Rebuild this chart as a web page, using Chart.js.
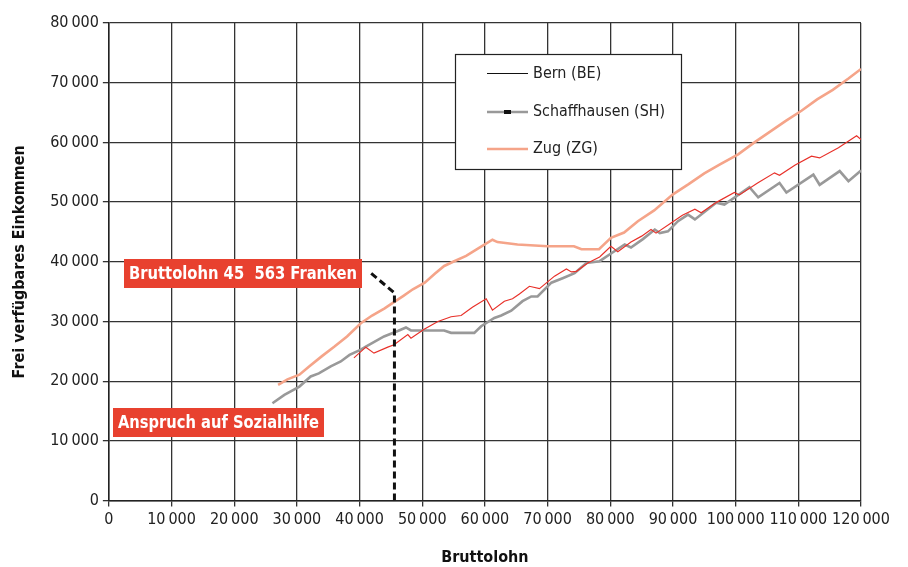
<!DOCTYPE html>
<html>
<head>
<meta charset="utf-8">
<script src="https://cdn.jsdelivr.net/npm/chart.js@4.4.0/dist/chart.umd.min.js"></script>
<style>
  html, body { margin: 0; padding: 0; background: #fff; }
  #wrap { width: 908px; height: 567px; }
</style>
</head>
<body>
<div id="wrap"><canvas id="chart" width="908" height="567"></canvas></div>
<script>
// Bruttolohn / frei verfuegbares Einkommen
const bernLohn = [39100, 41000, 42300, 44500, 45500, 47700, 48200, 50300, 52500, 54600, 56200, 58000, 60200, 61200, 63100, 64400, 65500, 67100, 68700, 71100, 73000, 73800, 74600, 76400, 78300, 80100, 81200, 83300, 85000, 86500, 87300, 89700, 91500, 93500, 94500, 97000, 99800, 100600, 103500, 106200, 107000, 109500, 112100, 113400, 116400, 119300, 120000];
const bernEinkommen = [23900, 25700, 24700, 25700, 26100, 27800, 27200, 28700, 30000, 30800, 31000, 32400, 33800, 31900, 33400, 33800, 34600, 35900, 35500, 37600, 38800, 38300, 38400, 39800, 40800, 42600, 41700, 43300, 44300, 45400, 44800, 46500, 47800, 48800, 48200, 50000, 51600, 51200, 53200, 54900, 54500, 56200, 57700, 57400, 59100, 61100, 60500];

const shLohn = [26100, 28000, 30400, 32200, 33500, 35400, 37000, 38400, 40200, 41000, 43900, 46100, 47400, 48200, 53500, 54600, 58300, 59400, 61500, 62600, 64200, 66000, 67400, 68400, 70600, 72500, 74300, 76200, 78300, 80000, 82300, 83300, 85200, 87100, 87900, 89200, 90800, 92400, 93500, 96900, 98200, 102200, 103600, 107000, 108100, 112400, 113400, 116600, 118000, 120000];
const shEinkommen = [16300, 17700, 19100, 20800, 21300, 22500, 23300, 24400, 25300, 25800, 27500, 28400, 29000, 28500, 28500, 28100, 28100, 29200, 30600, 31000, 31800, 33400, 34200, 34200, 36500, 37300, 38100, 39800, 40100, 41300, 42900, 42400, 43800, 45400, 44800, 45100, 46800, 47900, 47100, 49900, 49600, 52500, 50800, 53200, 51600, 54600, 52900, 55200, 53500, 55300];

const zugLohn = [27000, 28500, 30400, 32000, 34000, 36000, 38000, 40200, 42000, 44000, 45000, 47000, 48500, 50400, 52000, 53500, 55100, 57000, 59000, 61200, 62000, 65200, 70000, 74200, 75400, 78200, 80100, 82200, 84400, 87000, 90000, 92500, 95000, 97500, 100400, 103000, 105500, 108000, 110500, 113000, 115500, 118000, 120000];
const zugEinkommen = [19400, 20300, 21100, 22500, 24200, 25800, 27500, 29700, 31000, 32200, 32900, 34300, 35400, 36500, 38000, 39300, 40100, 41000, 42300, 43700, 43300, 42900, 42600, 42600, 42100, 42100, 44000, 44900, 46800, 48600, 51300, 53000, 54800, 56300, 58000, 60000, 61800, 63600, 65300, 67200, 68800, 70700, 72300];

// Markierung Bruttolohn 45 563 Franken
const markLohn = [45563, 45563, 41800];
const markEinkommen = [0, 34800, 38100];

const seriesNames = ['Bern (BE)', 'Schaffhausen (SH)', 'Zug (ZG)'];

function points(xs, ys) {
    return xs.map((x, i) => ({ x: x, y: ys[i] }));
}

function fmt(v) {
    if (v === 0) return '0';
    const s = String(v);
    return s.slice(0, s.length - 3) + '\u2009' + s.slice(-3);
}

const FONT = "'DejaVu Sans Condensed', 'Open Sans', sans-serif";

// schreibt Text, horizontal gestaucht falls zu breit
function fitText(ctx, text, x, y, maxW) {
    const w = ctx.measureText(text).width;
    const k = w > maxW ? maxW / w : 1;
    ctx.save();
    ctx.translate(x, y);
    ctx.scale(k, 1);
    ctx.fillText(text, 0, 0);
    ctx.restore();
}

// Legende und rote Beschriftungen
const extras = {
    id: 'extras',
    afterDraw(chart) {
        const ctx = chart.ctx;
        ctx.save();

        // Legende
        ctx.fillStyle = '#fff';
        ctx.fillRect(455, 54, 226, 115);
        ctx.strokeStyle = '#222';
        ctx.lineWidth = 1.2;
        ctx.strokeRect(455.5, 54.5, 226, 115);

        const rows = [73, 112, 149];
        ctx.font = '16px ' + FONT;
        ctx.textBaseline = 'middle';
        ctx.textAlign = 'left';
        rows.forEach((y, i) => {
            ctx.beginPath();
            if (i === 0) { ctx.strokeStyle = '#111'; ctx.lineWidth = 1; y += 0.5; }
            if (i === 1) { ctx.strokeStyle = '#999'; ctx.lineWidth = 2.5; }
            if (i === 2) { ctx.strokeStyle = '#f5a489'; ctx.lineWidth = 2.5; }
            ctx.moveTo(487, y);
            ctx.lineTo(528, y);
            ctx.stroke();
            if (i === 1) {
                ctx.fillStyle = '#111';
                ctx.fillRect(504, y - 2, 7, 4);
            }
            ctx.fillStyle = '#222';
            fitText(ctx, seriesNames[i], 533, y, 132);
        });

        // rote Boxen
        ctx.font = 'bold 17px ' + FONT;
        const boxes = [
            { text: 'Bruttolohn 45  563 Franken', x: 124, y: 259, w: 238, h: 29 },
            { text: 'Anspruch auf Sozialhilfe', x: 113, y: 408, w: 211, h: 29 }
        ];
        boxes.forEach(b => {
            ctx.fillStyle = '#e8412f';
            ctx.fillRect(b.x, b.y, b.w, b.h);
            ctx.fillStyle = '#fff';
            ctx.textAlign = 'left';
            fitText(ctx, b.text, b.x + 5, b.y + b.h / 2 + 1, b.w - 10);
        });

        ctx.restore();
    }
};

new Chart(document.getElementById('chart').getContext('2d'), {
    type: 'line',
    data: {
        datasets: [
            {
                label: seriesNames[0],
                data: points(bernLohn, bernEinkommen),
                borderColor: '#e8312a',
                borderWidth: 1.2,
                pointRadius: 0,
                order: 1
            },
            {
                label: seriesNames[1],
                data: points(shLohn, shEinkommen),
                borderColor: '#999999',
                borderWidth: 2.6,
                pointRadius: 0,
                order: 2
            },
            {
                label: seriesNames[2],
                data: points(zugLohn, zugEinkommen),
                borderColor: '#f5a489',
                borderWidth: 2.6,
                pointRadius: 0,
                order: 3
            },
            {
                label: 'Markierung',
                data: points(markLohn, markEinkommen),
                borderColor: '#111',
                borderWidth: 3,
                borderDash: [7, 4],
                pointRadius: 0,
                order: 0
            }
        ]
    },
    options: {
        responsive: false,
        animation: false,
        layout: { padding: { top: 23, right: 47, left: 10, bottom: 0 } },
        plugins: {
            legend: { display: false },
            tooltip: { enabled: false }
        },
        scales: {
            x: {
                type: 'linear',
                min: 0,
                max: 120000,
                border: { color: '#222', width: 1.5 },
                grid: { color: '#333', lineWidth: 1.3, tickLength: 6 },
                ticks: {
                    stepSize: 10000,
                    color: '#222',
                    font: { family: FONT, size: 16 },
                    maxRotation: 0,
                    padding: 4,
                    callback: v => fmt(v)
                },
                title: {
                    display: true,
                    text: 'Bruttolohn',
                    color: '#111',
                    font: { family: FONT, size: 16, weight: 'bold' },
                    padding: { top: 14, bottom: 0 }
                }
            },
            y: {
                min: 0,
                max: 80000,
                border: { color: '#222', width: 1.5 },
                grid: { color: '#333', lineWidth: 1.3, tickLength: 6 },
                ticks: {
                    stepSize: 10000,
                    color: '#222',
                    font: { family: FONT, size: 16 },
                    padding: 4,
                    callback: v => fmt(v)
                },
                title: {
                    display: true,
                    text: 'Frei verfügbares Einkommen',
                    color: '#111',
                    font: { family: FONT, size: 16, weight: 'bold' },
                    padding: { top: 0, bottom: 17 }
                }
            }
        }
    },
    plugins: [extras]
});
</script>
</body>
</html>
